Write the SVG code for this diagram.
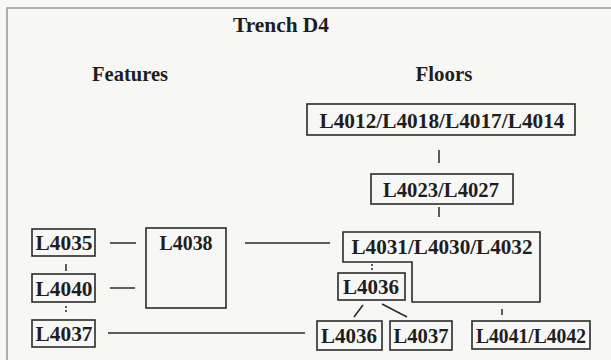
<svg xmlns="http://www.w3.org/2000/svg" width="611" height="360" viewBox="0 0 611 360">
  <style>
    .bx { fill: none; stroke: #2a2a2a; stroke-width: 1.6; }
    .ln { fill: none; stroke: #2a2a2a; stroke-width: 1.5; }
    .lbl { font-family: "Liberation Serif", "Times New Roman", serif; font-weight: bold; font-size: 20px; fill: #1e1e1e; text-anchor: middle; }
    .hd { font-family: "Liberation Serif", "Times New Roman", serif; font-weight: bold; font-size: 21px; fill: #1e1e1e; text-anchor: middle; }
  </style>
  <rect x="0" y="0" width="611" height="360" fill="#f7f7f5"/>
  <path d="M7,360 V8 H611" fill="none" stroke="#9a9a9a" stroke-width="1.6"/>

  <text class="hd" x="281" y="32" textLength="96" lengthAdjust="spacingAndGlyphs">Trench D4</text>
  <text class="hd" x="130" y="81" textLength="76" lengthAdjust="spacingAndGlyphs">Features</text>
  <text class="hd" x="444" y="81" textLength="57" lengthAdjust="spacingAndGlyphs">Floors</text>

  <g id="connectors">
    <line class="ln" x1="439" y1="150" x2="439" y2="163"/>
    <line class="ln" x1="439" y1="207" x2="439" y2="217"/>
    <line class="ln" x1="372" y1="264" x2="372" y2="270" stroke-dasharray="2,2"/>
    <line class="ln" x1="363" y1="305" x2="354" y2="317"/>
    <line class="ln" x1="382" y1="304" x2="407" y2="317"/>
    <line class="ln" x1="502" y1="309" x2="502" y2="315"/>
    <line class="ln" x1="66" y1="264" x2="66" y2="271"/>
    <line class="ln" x1="66" y1="306" x2="66" y2="313" stroke-dasharray="2,2"/>
    <line class="ln" x1="110" y1="243" x2="136" y2="243"/>
    <line class="ln" x1="110" y1="288" x2="135" y2="288"/>
    <line class="ln" x1="245" y1="243" x2="330" y2="243"/>
    <line class="ln" x1="108" y1="333" x2="305" y2="333"/>
  </g>

  <g id="n_L4012">
    <rect class="bx" x="307" y="104" width="268" height="31"/>
    <text class="lbl" x="442" y="128" textLength="245" lengthAdjust="spacingAndGlyphs">L4012/L4018/L4017/L4014</text>
  </g>
  <g id="n_L4023">
    <rect class="bx" x="371" y="174" width="142" height="30"/>
    <text class="lbl" x="441" y="197" textLength="116" lengthAdjust="spacingAndGlyphs">L4023/L4027</text>
  </g>
  <g id="n_L4031">
    <path class="bx" d="M343,232 H540 V302 H412 V262 H343 Z"/>
    <text class="lbl" x="442" y="254" textLength="181" lengthAdjust="spacingAndGlyphs">L4031/L4030/L4032</text>
  </g>
  <g id="n_L4036a">
    <rect class="bx" x="338" y="273" width="67" height="27"/>
    <text class="lbl" x="371" y="294" textLength="56" lengthAdjust="spacingAndGlyphs">L4036</text>
  </g>
  <g id="n_L4036b">
    <rect class="bx" x="317" y="321" width="65" height="29"/>
    <text class="lbl" x="349" y="343" textLength="56" lengthAdjust="spacingAndGlyphs">L4036</text>
  </g>
  <g id="n_L4037b">
    <rect class="bx" x="390" y="321" width="62" height="29"/>
    <text class="lbl" x="421" y="343" textLength="55" lengthAdjust="spacingAndGlyphs">L4037</text>
  </g>
  <g id="n_L4041">
    <rect class="bx" x="472" y="321" width="118" height="28"/>
    <text class="lbl" x="531" y="343" textLength="110" lengthAdjust="spacingAndGlyphs">L4041/L4042</text>
  </g>
  <g id="n_L4035">
    <rect class="bx" x="32" y="229" width="63" height="27"/>
    <text class="lbl" x="64" y="250" textLength="57" lengthAdjust="spacingAndGlyphs">L4035</text>
  </g>
  <g id="n_L4040">
    <rect class="bx" x="32" y="274" width="63" height="28"/>
    <text class="lbl" x="64" y="296" textLength="57" lengthAdjust="spacingAndGlyphs">L4040</text>
  </g>
  <g id="n_L4037a">
    <rect class="bx" x="32" y="320" width="63" height="27"/>
    <text class="lbl" x="64" y="341" textLength="57" lengthAdjust="spacingAndGlyphs">L4037</text>
  </g>
  <g id="n_L4038">
    <rect class="bx" x="146" y="228" width="80" height="80"/>
    <text class="lbl" x="186" y="250" textLength="53" lengthAdjust="spacingAndGlyphs">L4038</text>
  </g>
</svg>
